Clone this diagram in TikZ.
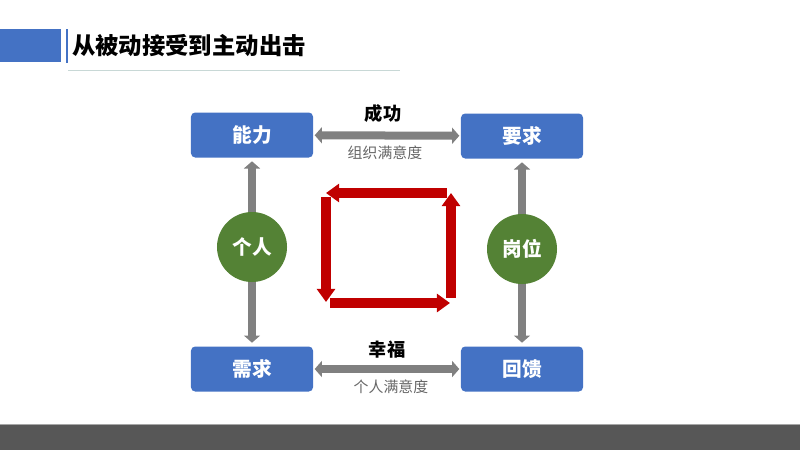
\documentclass[tikz,border=0pt]{standalone}
\usepackage{fontspec}
\setmainfont{Noto Sans CJK SC}
\usetikzlibrary{arrows.meta,positioning}
\definecolor{boxblue}{RGB}{68,114,196}
\definecolor{circgreen}{RGB}{84,130,53}
\definecolor{loopred}{RGB}{192,0,0}
\definecolor{bargray}{RGB}{87,87,87}
\definecolor{linkgray}{RGB}{128,128,128}
\definecolor{ruleteal}{RGB}{200,216,214}
\tikzset{
  box/.style={fill=boxblue, rounded corners=3pt, minimum width=3.05cm, minimum height=1.125cm,
    inner sep=0pt, text=white, font=\bfseries\fontsize{14}{16}\selectfont},
  hub/.style={circle, fill=circgreen, minimum size=1.75cm, inner sep=0pt, text=white,
    font=\bfseries\fontsize{14}{16}\selectfont},
  link/.style={draw=linkgray, line width=0.2cm, {Triangle[length=0.18cm,width=0.4cm]}-{Triangle[length=0.18cm,width=0.4cm]}},
  loop/.style={draw=loopred, line width=0.25cm, -{Triangle[length=0.33cm,width=0.45cm]}},
  toplabel/.style={font=\bfseries\fontsize{13}{15}\selectfont},
  sublabel/.style={text=linkgray!80!black, font=\fontsize{10.6}{12}\selectfont}
}
\begin{document}
\begin{tikzpicture}[x=0.025cm, y=-0.025cm]
\useasboundingbox (0,0) rectangle (800,450);
\fill[boxblue] (0,29) rectangle (61,62);
\fill[boxblue] (66,29) rectangle (68,63);
\draw[ruleteal, line width=0.6pt] (68,70) -- (400,70);
\node[anchor=west, inner sep=0pt, font=\bfseries\fontsize{16.6}{20}\selectfont] (title) at (72,46) {从被动接受到主动出击};
\fill[bargray] (0,424) rectangle (800,450);
\draw[gray!70, line width=0.6pt] (0,424) -- (800,424);

\node[box] (ability) at (252,135) {能力};
\node[box] (demand) at (522,136) {要求};
\node[box] (need) at (252,369) {需求};
\node[box] (feedback) at (522,369) {回馈};

\draw[link, shorten <=1pt, shorten >=1pt] (ability) -- (demand);
\draw[link, shorten <=1pt, shorten >=1pt] (need) -- (feedback);
\draw[link, shorten <=2.5pt, shorten >=2.5pt] (ability) -- (need);
\draw[link, shorten <=2.5pt, shorten >=2.5pt] (demand) -- (feedback);

\node[toplabel] (success) at (383,114) {成功};
\node[sublabel] (orgsat) at (385,153) {组织满意度};
\node[toplabel] (happy) at (387,350) {幸福};
\node[sublabel] (selfsat) at (391,387) {个人满意度};

\node[hub] (person) at (252,247) {个人};
\node[hub] (post) at (522,249) {岗位};

\coordinate (tr) at (447,193);
\coordinate (tl) at (326,193);
\coordinate (lt) at (326,197);
\coordinate (lb) at (326,302);
\coordinate (bl) at (330,303);
\coordinate (br) at (450,303);
\coordinate (rb) at (451,298);
\coordinate (rt) at (451,193);
\draw[loop] (tr) -- (tl);
\draw[loop] (lt) -- (lb);
\draw[loop] (bl) -- (br);
\draw[loop] (rb) -- (rt);
\end{tikzpicture}
\end{document}
